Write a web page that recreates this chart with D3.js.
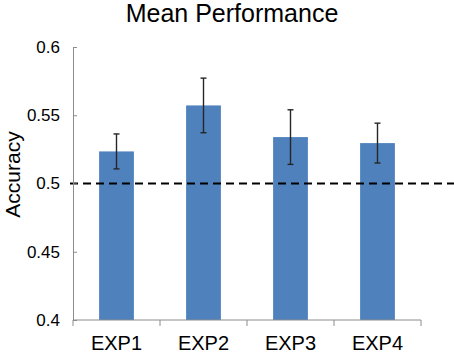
<!DOCTYPE html>
<html>
<head>
<meta charset="utf-8">
<script src="https://cdn.jsdelivr.net/npm/d3@7"></script>
<style>
  html, body { margin: 0; padding: 0; background: #fff; }
  svg { display: block; font-family: "Liberation Sans", Arial, sans-serif; }
  .axis path, .axis line { stroke: #8c8c8c; }
  .axis text { fill: #000; }
</style>
</head>
<body>
<div id="chart"></div>
<script>
// Mean accuracy per experiment with error bars, chance line at 0.5
const experiments = ["EXP1", "EXP2", "EXP3", "EXP4"];
const means  = [0.5235, 0.5572, 0.5340, 0.5296];
const errors = [0.0128, 0.0200, 0.0200, 0.0146];
const yTicks = [0.4, 0.45, 0.5, 0.55, 0.6];
const chance = 0.5;

const width = 454, height = 353;
const MARGIN = { top: 47, right: 33, bottom: 33, left: 73 };
const innerW = width - MARGIN.left - MARGIN.right;
const innerH = height - MARGIN.top - MARGIN.bottom;

const svg = d3.select("#chart").append("svg")
  .attr("width", width).attr("height", height);
const g = svg.append("g").attr("transform", `translate(${MARGIN.left},${MARGIN.top})`);

const x = d3.scaleBand().domain(experiments).range([0, innerW]).paddingInner(0.6).paddingOuter(0.3);
const xEdges = d3.scaleBand().domain(experiments).range([0, innerW]);
const y = d3.scaleLinear().domain([0.4, 0.6]).range([innerH, 0]);

// bars
g.append("g").selectAll("rect")
  .data(experiments)
  .join("rect")
    .attr("x", (d) => x(d))
    .attr("width", x.bandwidth())
    .attr("y", (d, i) => y(means[i]))
    .attr("height", (d, i) => y(0.4) - y(means[i]))
    .attr("fill", "#4f81bd");

// chance line (drawn over bars, runs to right edge)
g.append("line")
  .attr("x1", -3).attr("x2", width - MARGIN.left)
  .attr("y1", y(chance)).attr("y2", y(chance))
  .attr("stroke", "#000").attr("stroke-width", 2)
  .attr("stroke-dasharray", "8,5");

// error bars
const eb = g.append("g").attr("stroke", "#262626").attr("stroke-width", 1.4);
experiments.forEach((d, i) => {
  const cx = x(d) + x.bandwidth() / 2;
  const top = y(means[i] + errors[i]), bot = y(means[i] - errors[i]);
  eb.append("line").attr("x1", cx).attr("x2", cx).attr("y1", top).attr("y2", bot);
  eb.append("line").attr("x1", cx - 3).attr("x2", cx + 3).attr("y1", top).attr("y2", top);
  eb.append("line").attr("x1", cx - 3).attr("x2", cx + 3).attr("y1", bot).attr("y2", bot);
});

// y axis: ticks point inward
const yAx = g.append("g").attr("class", "axis")
  .call(d3.axisRight(y).tickValues(yTicks).tickSize(4).tickSizeOuter(0).tickFormat(d3.format("")));
yAx.selectAll("text")
  .attr("x", -13).attr("text-anchor", "end")
  .style("font-size", "17px");

// x axis: ticks at band edges
const xAx = g.append("g").attr("class", "axis").attr("transform", `translate(0,${innerH})`);
xAx.append("line").attr("x1", 0).attr("x2", innerW).attr("y1", 0).attr("y2", 0);
xAx.selectAll("line.tick")
  .data(experiments.concat(["_end"]))
  .join("line")
    .attr("class", "tick")
    .attr("x1", (d, i) => i * xEdges.step()).attr("x2", (d, i) => i * xEdges.step())
    .attr("y1", 0).attr("y2", 6);
xAx.selectAll("text")
  .data(experiments)
  .join("text")
    .attr("x", (d) => x(d) + x.bandwidth() / 2)
    .attr("y", 30)
    .attr("text-anchor", "middle")
    .style("font-size", "20px")
    .text((d) => d);

// title + axis label
svg.append("text")
  .attr("x", 232).attr("y", 22)
  .attr("text-anchor", "middle")
  .style("font-size", "25px")
  .text("Mean Performance");

svg.append("text")
  .attr("transform", `translate(20,${174.5}) rotate(-90)`)
  .attr("text-anchor", "middle")
  .style("font-size", "21px")
  .text("Accuracy");
</script>
</body>
</html>
